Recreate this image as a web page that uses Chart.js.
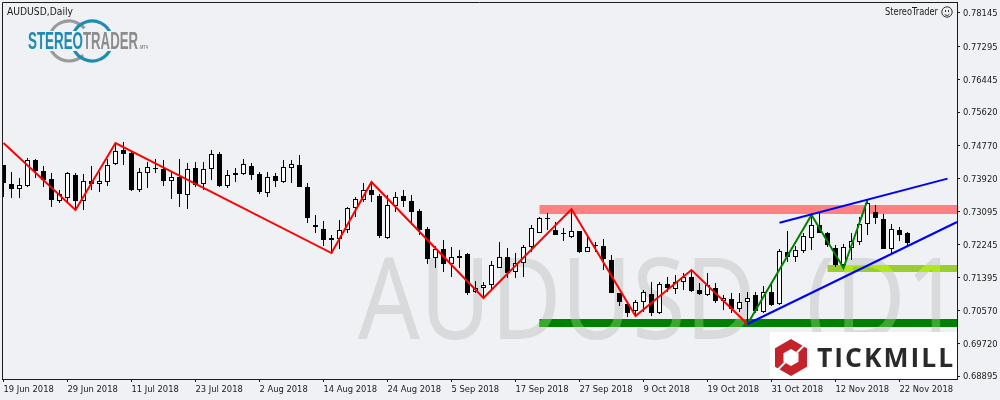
<!DOCTYPE html>
<html><head><meta charset="utf-8">
<style>html,body{margin:0;padding:0;background:#eff1f4}#w{width:1000px;height:400px}</style>
<script src="https://cdn.jsdelivr.net/npm/chart.js@4"></script>
</head><body><div id="w"><canvas id="c" width="1000" height="400"></canvas></div>
<script>
const opens=[.74272,.73787,.73660,.73736,.74399,.74119,.73915,.73354,.73430,.74017,.73354,.73864,.73787,.73838,.74297,.74654,.74577,.73634,.74068,.74195,.74170,.73864,.73966,.73507,.74195,.73787,.74170,.74552,.73736,.74017,.74042,.74246,.74042,.73558,.73991,.73838,.74195,.74272,.73711,.72743,.72641,.72411,.72386,.72615,.73175,.73379,.73634,.73481,.72411,.73226,.73481,.73354,.73099,.72641,.71901,.72131,.71749,.71901,.72003,.71035,.71137,.71214,.71647,.71927,.71545,.71775,.72182,.72539,.72920,.72615,.72539,.72437,.72590,.72054,.72233,.72207,.71851,.71010,.70729,.70551,.70780,.70984,.70500,.71239,.71112,.71290,.71418,.71086,.70959,.71137,.70806,.70857,.70602,.70780,.70959,.70525,.71035,.70729,.72054,.71927,.72080,.72411,.72743,.72539,.72156,.71724,.72156,.72309,.72768,.73073,.72895,.72131,.72615,.72539];
const closes=[.73813,.73660,.73762,.74399,.74119,.73889,.73379,.73532,.74068,.73354,.73864,.73787,.73864,.74272,.74628,.74552,.73634,.74093,.74221,.74170,.73864,.73966,.73532,.74170,.73762,.74170,.74552,.73736,.74017,.74068,.74297,.74017,.73583,.73966,.73864,.74221,.74297,.73711,.72920,.72692,.72360,.72360,.72615,.73175,.73405,.73634,.73507,.72462,.73252,.73456,.73354,.73073,.72615,.71876,.72131,.71749,.71927,.71952,.71010,.71137,.71214,.71724,.71927,.71520,.71775,.72182,.72666,.72920,.72895,.72488,.72513,.72590,.72054,.72182,.72207,.71876,.71010,.70780,.70500,.70780,.71035,.70500,.71239,.71137,.71290,.71418,.71061,.70984,.71214,.70806,.70882,.70602,.70780,.70882,.70551,.71035,.70704,.72080,.71927,.72105,.72462,.72743,.72539,.72233,.71724,.72182,.72335,.72768,.73303,.72920,.72131,.72641,.72488,.72284];
const highs=[.74272,.74093,.73940,.74450,.74424,.74246,.74068,.73634,.74093,.74068,.74042,.74246,.74093,.74424,.74832,.74857,.74603,.74195,.74348,.74424,.74399,.74093,.74424,.74323,.74348,.74348,.74654,.74603,.74144,.74195,.74424,.74323,.74093,.74093,.74068,.74399,.74399,.74526,.73813,.72997,.72845,.72488,.72870,.73201,.73456,.73813,.73813,.73532,.73507,.73583,.73634,.73507,.73150,.72692,.72207,.72360,.72182,.72105,.72029,.71316,.71290,.71826,.72309,.72156,.72029,.72233,.72743,.72946,.73048,.72819,.72666,.73124,.72590,.72437,.72309,.72386,.71978,.71010,.70780,.70831,.71086,.71290,.71290,.71418,.71469,.71520,.71596,.71265,.71520,.71265,.70959,.71010,.71010,.71035,.71035,.71188,.71265,.72131,.72590,.72207,.72539,.72997,.73048,.72564,.72233,.72258,.72539,.72946,.73379,.73252,.73022,.72768,.72692,.72564];
const lows=[.73456,.73430,.73430,.73711,.73940,.73711,.73201,.73303,.73328,.73124,.73124,.73634,.73583,.73736,.74272,.74272,.73609,.73583,.73685,.74068,.73736,.73405,.73201,.73150,.73711,.73634,.73889,.73711,.73685,.73838,.74017,.73889,.73532,.73456,.73711,.73813,.73813,.73711,.72794,.72539,.72207,.72054,.72131,.72539,.72946,.73328,.73328,.72411,.72386,.73073,.73201,.72743,.72488,.71749,.71647,.71545,.71418,.71647,.70959,.71010,.70882,.71086,.71647,.71392,.71392,.71418,.72054,.72539,.72615,.72488,.72335,.72411,.72029,.72054,.72054,.71596,.71010,.70678,.70398,.70398,.70525,.70423,.70474,.71035,.70984,.71086,.71035,.70959,.70933,.70755,.70576,.70500,.70525,.70220,.70500,.70500,.70678,.70704,.71800,.71800,.72029,.72105,.72539,.72182,.71673,.71647,.71851,.72233,.72488,.72768,.72131,.72029,.72335,.72207];

const dateTickBars=[0,8,16,24,32,40,48,56,64,72,80,88,96,104,112];
const dateTickLabels=["19 Jun 2018","29 Jun 2018","11 Jul 2018","23 Jul 2018","2 Aug 2018","14 Aug 2018","24 Aug 2018","5 Sep 2018","17 Sep 2018","27 Sep 2018","9 Oct 2018","19 Oct 2018","31 Oct 2018","12 Nov 2018","22 Nov 2018"];
const priceTicks=[0.78145,0.77295,0.76445,0.75620,0.74770,0.73920,0.73095,0.72245,0.71395,0.70570,0.69720,0.68895];

const zigzagRedBars=[0,9,14,41,46,60,71,79,86,93];
const zigzagRedPrices=[.74832,.73124,.74832,.72029,.73838,.70882,.73150,.70423,.71596,.70220];
const zigzagGreenBars=[93,101,105,108];
const zigzagGreenPrices=[.70220,.72997,.71647,.73379];
const channelLowBars=[93,119.19];
const channelLowPrices=[.70220,.72819];
const channelHighBars=[97,118];
const channelHighPrices=[.72800,.73925];
const zoneRedBars=[67,119.19], zoneRedPrice=.73137;
const zoneGreenBars=[67,119.19], zoneGreenPrice=.70245;
const zoneLimeBars=[103,119.19], zoneLimePrice=.71634;

const INK='#1c1c1c', BG='#eff1f4';
const pts=(xs,ys)=>xs.map((x,i)=>({x,y:ys[i]}));
const line=(xs,ys,color,width,order,extra)=>Object.assign({type:'line',data:pts(xs,ys),borderColor:color,borderWidth:width,pointRadius:0,borderCapStyle:'butt',borderJoinStyle:'miter',tension:0,order},extra||{});
const flat=(xs,p)=>xs.map(()=>p);
const wickData=highs.map((h,i)=>({x:i,y:[lows[i],h]}));
const bodyData=opens.map((o,i)=>({x:i,y:[o,closes[i]]}));

function watermark(ctx,color){
  ctx.font='113px "Noto Sans"';ctx.textAlign='left';ctx.textBaseline='alphabetic';ctx.fillStyle=color;
  ctx.fillText('AUDUSD',358,339,398);
  ctx.fillText('(D1)',806,339,184);
}
const bgPlugin={id:'bgp',
  beforeDatasetsDraw(ch){const c=ch.ctx,a=ch.chartArea;c.save();c.beginPath();c.rect(a.left,a.top,a.right-a.left,a.bottom-a.top);c.clip();watermark(c,'#d8dadb');c.restore();},
  afterDatasetDraw(ch,args){
    const ds=ch.data.datasets[args.index];if(!ds.tint)return;
    const c=ch.ctx,xs=ch.scales.x,ys=ch.scales.y,yc=ys.getPixelForValue(ds.data[0].y),h=ds.borderWidth;
    const x0=xs.getPixelForValue(ds.data[0].x),x1=xs.getPixelForValue(ds.data[1].x);
    c.save();c.beginPath();c.rect(x0,yc-h/2,x1-x0,h);c.clip();watermark(c,ds.tint);c.restore();
  },
  afterDraw(ch){
    const c=ch.ctx,a=ch.chartArea;
    c.save();
    c.strokeStyle=INK;c.lineWidth=1;
    c.beginPath();c.moveTo(a.left+.5,a.bottom);c.lineTo(a.left+.5,a.top+.5);c.lineTo(a.right,a.top+.5);c.stroke();
    c.textBaseline='alphabetic';c.textAlign='left';c.fillStyle='#1a1a1a';
    c.font='11px "DejaVu Sans Condensed","Noto Sans"';
    c.fillText('AUDUSD,Daily',7,15,66);
    c.textAlign='right';c.fillText('StereoTrader',938,15,53);
    c.strokeStyle='#333';c.lineWidth=1;c.beginPath();c.arc(947,12,5.2,0,Math.PI*2);c.stroke();
    c.fillStyle='#333';c.fillRect(945,10,1,2);c.fillRect(948,10,1,2);
    c.beginPath();c.arc(947,12.5,3,.2*Math.PI,.8*Math.PI);c.stroke();
    // StereoTrader logo
    c.lineWidth=3.2;
    c.strokeStyle='#9a9a9a';
    c.beginPath();c.arc(69,41,20,1.12*Math.PI,1.78*Math.PI);c.stroke();
    c.beginPath();c.arc(69,41,20,.25*Math.PI,.88*Math.PI);c.stroke();
    c.strokeStyle='#1e8bb3';
    c.beginPath();c.arc(92,41,20,1.15*Math.PI,1.88*Math.PI);c.stroke();
    c.beginPath();c.arc(92,41,20,.12*Math.PI,.85*Math.PI);c.stroke();
    c.textAlign='left';c.font='bold 24px "Liberation Sans"';
    c.fillStyle=BG;c.fillRect(28,31,112,20);
    c.fillStyle='#1e8bb3';c.fillText('STEREO',28,49,55);
    c.fillStyle='#8c8c8c';c.fillText('TRADER',83,49,55);
    c.font='bold 5px "Liberation Sans"';c.fillText('MT4',140,49,8);
    // Tickmill logo
    c.fillStyle='#fff';c.fillRect(770,332,187,46.5);
    const cx=791,cy=357.5,R=18.5,Rx=16,r=8.5,rx=7.5;
    c.fillStyle='#c5232b';c.beginPath();
    c.moveTo(cx,cy-R);c.lineTo(cx+Rx,cy-R/2);c.lineTo(cx+Rx,cy+R/2);c.lineTo(cx,cy+R);c.lineTo(cx-Rx,cy+R/2);c.lineTo(cx-Rx,cy-R/2);c.closePath();
    c.moveTo(cx,cy-r);c.lineTo(cx-rx,cy-r/2);c.lineTo(cx-rx,cy+r/2);c.lineTo(cx,cy+r);c.lineTo(cx+rx,cy+r/2);c.lineTo(cx+rx,cy-r/2);c.closePath();
    c.fill('evenodd');
    c.strokeStyle='#fff';c.lineWidth=2;
    c.beginPath();c.moveTo(cx+17,cy-16);c.lineTo(cx+6,cy-5);c.stroke();
    c.beginPath();c.moveTo(cx-17,cy+16);c.lineTo(cx-6,cy+5);c.stroke();
    c.fillStyle='#2a2a2a';c.font='bold 26.5px "Open Sans"';c.textAlign='left';
    c.letterSpacing='2px';
    c.fillText('TICKMILL',817,367);
    c.letterSpacing='0px';
    c.restore();
  }
};

new Chart(document.getElementById('c'),{
  type:'bar',
  plugins:[bgPlugin],
  data:{datasets:[
    line(zoneRedBars,flat(zoneRedBars,zoneRedPrice),'#ff8080',9,100),
    line(zoneGreenBars,flat(zoneGreenBars,zoneGreenPrice),'#008000',8,100,{tint:'#3aa82e'}),
    line(zoneLimeBars,flat(zoneLimeBars,zoneLimePrice),'#9acd32',7,100,{tint:'#aee81c'}),
    {type:'bar',data:wickData,backgroundColor:'#000',borderWidth:0,barThickness:1,inflateAmount:0,grouped:false,order:50},
    {type:'bar',data:bodyData,backgroundColor:opens.map((o,i)=>closes[i]>=o?'#fff':'#000'),borderColor:'#000',borderWidth:1,borderSkipped:false,barThickness:5,inflateAmount:0,grouped:false,order:40},
    line(zigzagRedBars,zigzagRedPrices,'#ff0000',2,10),
    line(zigzagGreenBars,zigzagGreenPrices,'#008000',2,9),
    line(channelLowBars,channelLowPrices,'#0000ff',2,8),
    line(channelHighBars,channelHighPrices,'#0000ff',2,8)
  ]},
  options:{
    responsive:false,animation:false,events:[],
    layout:{autoPadding:false,padding:{left:2,top:2,right:0,bottom:0}},
    plugins:{legend:{display:false},tooltip:{enabled:false},title:{display:false}},
    scales:{
      x:{type:'linear',offset:false,min:-0.1875,max:119.1875,position:'bottom',
        border:{display:true,color:INK,width:1},
        grid:{display:true,offset:false,drawOnChartArea:false,drawTicks:true,tickLength:3,tickColor:INK},
        afterBuildTicks:s=>{s.ticks=dateTickBars.map(v=>({value:v}));},
        afterFit:s=>{s.height=21;s.paddingLeft=0;s.paddingRight=0;s.paddingTop=0;s.paddingBottom=0;},
        ticks:{autoSkip:false,maxRotation:0,minRotation:0,align:'start',padding:2,color:'#1a1a1a',
          font:{family:'"DejaVu Sans Condensed","Noto Sans"',size:9.3},
          callback:v=>dateTickLabels[dateTickBars.indexOf(v)]}},
      y:{type:'linear',position:'right',min:.68819,max:.78425,
        border:{display:true,color:INK,width:1},
        grid:{display:true,drawOnChartArea:false,drawTicks:true,tickLength:3,tickColor:INK},
        afterBuildTicks:s=>{s.ticks=priceTicks.map(v=>({value:v}));},
        afterFit:s=>{s.width=43;s.paddingLeft=0;s.paddingRight=0;s.paddingTop=0;s.paddingBottom=0;},
        ticks:{autoSkip:false,padding:3,labelOffset:1,color:'#1a1a1a',
          font:{family:'"DejaVu Sans Condensed","Noto Sans"',size:9.3},
          callback:v=>v.toFixed(5)}}
    }
  }
});
</script></body></html>
